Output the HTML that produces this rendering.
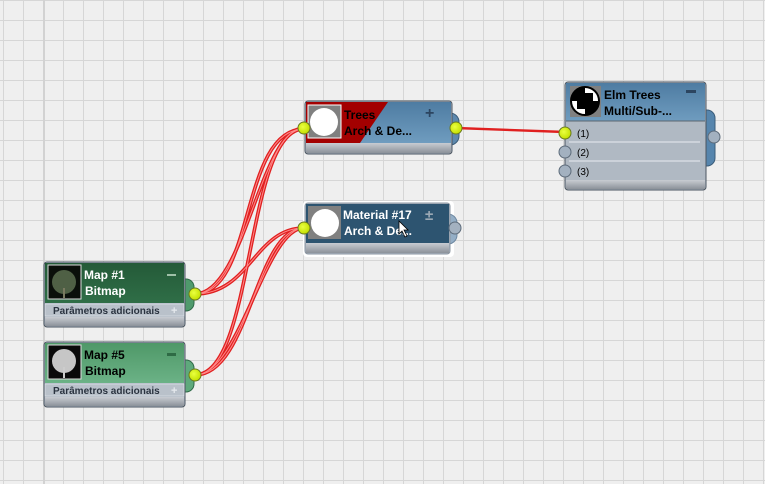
<!DOCTYPE html>
<html><head><meta charset="utf-8"><style>
html,body{margin:0;padding:0;width:765px;height:484px;overflow:hidden;background:#efefef}
svg{display:block}
text{font-family:"Liberation Sans",sans-serif;font-weight:bold}
</style></head><body>
<svg width="765" height="484" viewBox="0 0 765 484" xmlns="http://www.w3.org/2000/svg">
<defs>
<pattern id="g" x="3" y="0" width="20" height="20" patternUnits="userSpaceOnUse">
<rect width="20" height="20" fill="#efefef"/>
<rect x="0" y="0" width="1" height="20" fill="#d6d6d6"/>
<rect x="0" y="0" width="20" height="1" fill="#d6d6d6"/>
</pattern>
<linearGradient id="foot" x1="0" y1="0" x2="0" y2="1"><stop offset="0" stop-color="#c8ccd2"/><stop offset="1" stop-color="#8c929a"/></linearGradient>
<linearGradient id="blue" x1="0" y1="0" x2="0" y2="1"><stop offset="0" stop-color="#4e7ca2"/><stop offset="1" stop-color="#6f9cbf"/></linearGradient>
<linearGradient id="dg" x1="0" y1="0" x2="0" y2="1"><stop offset="0" stop-color="#245a38"/><stop offset="1" stop-color="#2f6e47"/></linearGradient>
<linearGradient id="lg" x1="0" y1="0" x2="0" y2="1"><stop offset="0" stop-color="#4f9868"/><stop offset="1" stop-color="#6bb286"/></linearGradient>
<radialGradient id="yel" cx="0.4" cy="0.4" r="0.6"><stop offset="0" stop-color="#eaff40"/><stop offset="1" stop-color="#c4e000"/></radialGradient>
</defs>
<rect width="765" height="484" fill="url(#g)"/>
<rect x="43" y="0" width="2" height="484" fill="#d2d2d2"/>

<!-- wires -->
<g fill="none">
<g stroke="#e02020" stroke-width="3.6">
<path d="M195,294 C255,294 240,129 304,129"/>
<path d="M195,294 C245,294 260,128 304,128" />
<path d="M195,294 C250,294 255,228 304,228"/>
<path d="M195,375 C255,375 245,129 304,129"/>
<path d="M195,375 C250,375 255,228 304,228"/>
<path d="M195,375 C240,375 265,228 304,228"/>
<path d="M456,128 L565,132" stroke-width="2.4"/>
</g>
<g stroke="#ff8a8a" stroke-width="1">
<path d="M195,294 C255,294 240,129 304,129"/>
<path d="M195,294 C245,294 260,128 304,128" />
<path d="M195,294 C250,294 255,228 304,228"/>
<path d="M195,375 C255,375 245,129 304,129"/>
<path d="M195,375 C250,375 255,228 304,228"/>
<path d="M195,375 C240,375 265,228 304,228"/>
</g>
</g>

<!-- Trees node -->
<path d="M442,113 h8 a9,9 0 0 1 9,9 v14 a9,9 0 0 1 -9,9 h-8z" fill="#5d88ad" stroke="#3b5d7a"/>
<rect x="305" y="101" width="147" height="53" rx="3" fill="#aab4bf" stroke="#4b5560"/>
<rect x="306" y="102" width="145" height="41" fill="url(#blue)"/>
<polygon points="306,102 388,102 360,143 306,143" fill="#a30000"/>
<rect x="306" y="143" width="145" height="10" fill="url(#foot)"/>
<rect x="308" y="105" width="33" height="33" fill="#808080" stroke="#fff"/>
<circle cx="324" cy="122" r="14" fill="#fff"/>
<text x="344" y="119" font-size="12" fill="#000">Trees</text>
<text x="344" y="135" font-size="12" fill="#000">Arch &amp; De...</text>
<text x="425" y="118" font-size="16" fill="#2c4560">+</text>
<circle cx="304" cy="128" r="6" fill="url(#yel)" stroke="#6a7a20"/>
<circle cx="456" cy="128" r="6" fill="url(#yel)" stroke="#6a7a20"/>

<!-- Material #17 -->
<rect x="303" y="201" width="151" height="56" rx="4" fill="#ffffff"/>
<path d="M442,214 h6 a9,9 0 0 1 9,9 v12 a9,9 0 0 1 -9,9 h-6z" fill="#94aec6" stroke="#6d87a0"/>
<rect x="305" y="203" width="145" height="51" rx="3" fill="#aab4bf" stroke="#8b95a0"/>
<rect x="306" y="204" width="143" height="39" fill="#2d5470"/>
<rect x="306" y="243" width="143" height="10" fill="url(#foot)"/>
<rect x="308" y="206" width="33" height="33" fill="#808080"/>
<circle cx="325" cy="223" r="14" fill="#fff"/>
<text x="343" y="219" font-size="12" fill="#fff">Material #17</text>
<text x="344" y="235" font-size="12" fill="#fff">Arch &amp; De...</text>
<text x="425" y="220" font-size="15" fill="#9aa8b4">±</text>
<path d="M399,221 l0,13 3,-3 3,6 2,-1 -3,-6 4,0z" fill="#fff" stroke="#000" stroke-width="0.8"/>
<circle cx="304" cy="228" r="6" fill="url(#yel)" stroke="#6a7a20"/>
<circle cx="455" cy="228" r="6" fill="#a3b1c0" stroke="#5d6b7a"/>

<!-- Elm Trees -->
<path d="M700,110 h7 a8,8 0 0 1 8,8 v40 a8,8 0 0 1 -8,8 h-7z" fill="#5685ad" stroke="#3b5d7a"/>
<rect x="565" y="82" width="141" height="108" rx="3" fill="#b0b9c3" stroke="#4b5560"/>
<rect x="566" y="83" width="139" height="38" fill="url(#blue)"/>
<line x1="566" y1="121" x2="705" y2="121" stroke="#5b6670"/>
<line x1="569" y1="142" x2="700" y2="142" stroke="#e8ecf0"/>
<line x1="569" y1="161" x2="700" y2="161" stroke="#e8ecf0"/>
<rect x="566" y="180" width="139" height="9" fill="url(#foot)"/>
<rect x="570" y="86" width="31" height="31" fill="#808080"/>
<circle cx="585" cy="101" r="14" fill="#fff"/>
<path d="M585,87 a14,14 0 0 0 -14,14 h14z M585,101 v14 a14,14 0 0 0 14,-14z M585,101 h8 v-8 h-8z M577,101 v8 h8 v-8z" fill="#000"/>
<circle cx="585" cy="101" r="14" fill="none" stroke="#000" stroke-width="2"/>
<text x="604" y="99" font-size="12" fill="#000">Elm Trees</text>
<text x="604" y="115" font-size="12" fill="#000">Multi/Sub-...</text>
<rect x="686" y="90" width="10" height="3" fill="#2c4560"/>
<text x="577" y="137" font-size="10" fill="#000" style="font-weight:normal">(1)</text>
<text x="577" y="156" font-size="10" fill="#000" style="font-weight:normal">(2)</text>
<text x="577" y="175" font-size="10" fill="#000" style="font-weight:normal">(3)</text>
<circle cx="565" cy="133" r="6" fill="url(#yel)" stroke="#6a7a20"/>
<circle cx="565" cy="152" r="6" fill="#a3b1c0" stroke="#5d6b7a"/>
<circle cx="565" cy="171" r="6" fill="#a3b1c0" stroke="#5d6b7a"/>
<circle cx="714" cy="137" r="6" fill="#a3b1c0" stroke="#5d6b7a"/>

<!-- Map #1 -->
<path d="M180,279 h6 a8,8 0 0 1 8,8 v16 a8,8 0 0 1 -8,8 h-6z" fill="#4f9a6c" stroke="#2f6a48"/>
<rect x="44" y="262" width="141" height="65" rx="3" fill="#aab4bf" stroke="#4b5560"/>
<rect x="45" y="263" width="139" height="40" fill="url(#dg)"/>
<rect x="45" y="304" width="139" height="12" fill="#b9c1ca" stroke="#e6eaee" stroke-width="0.6"/>
<rect x="45" y="317" width="139" height="9" fill="url(#foot)"/>
<rect x="48" y="265" width="33" height="34" fill="#0a0f0a" stroke="#ddd"/>
<circle cx="64" cy="282" r="12" fill="#5c6e50" opacity="0.85"/>
<rect x="63" y="288" width="2" height="10" fill="#7a7a60"/>
<text x="84" y="279" font-size="12" fill="#fff">Map #1</text>
<text x="85" y="295" font-size="12" fill="#fff">Bitmap</text>
<rect x="167" y="274" width="9" height="2" fill="#9fc0a8"/>
<text x="53" y="314" font-size="10" fill="#2a3340">Parâmetros adicionais</text>
<text x="171" y="314" font-size="11" fill="#e6eaee">+</text>
<circle cx="195" cy="294" r="6" fill="url(#yel)" stroke="#6a7a20"/>

<!-- Map #5 -->
<path d="M180,360 h6 a8,8 0 0 1 8,8 v16 a8,8 0 0 1 -8,8 h-6z" fill="#5ea97c" stroke="#2f6a48"/>
<rect x="44" y="342" width="141" height="65" rx="3" fill="#aab4bf" stroke="#4b5560"/>
<rect x="45" y="343" width="139" height="40" fill="url(#lg)"/>
<rect x="45" y="384" width="139" height="12" fill="#b9c1ca" stroke="#e6eaee" stroke-width="0.6"/>
<rect x="45" y="397" width="139" height="9" fill="url(#foot)"/>
<rect x="48" y="345" width="33" height="34" fill="#0a0a0a" stroke="#ddd"/>
<circle cx="64" cy="361" r="12" fill="#e8e8e8" opacity="0.85"/>
<rect x="63" y="367" width="2" height="11" fill="#ccc"/>
<text x="84" y="359" font-size="12" fill="#000">Map #5</text>
<text x="85" y="375" font-size="12" fill="#000">Bitmap</text>
<rect x="167" y="353" width="9" height="3" fill="#2e6b45"/>
<text x="53" y="394" font-size="10" fill="#2a3340">Parâmetros adicionais</text>
<text x="171" y="394" font-size="11" fill="#e6eaee">+</text>
<circle cx="195" cy="375" r="6" fill="url(#yel)" stroke="#6a7a20"/>
</svg>
</body></html>
